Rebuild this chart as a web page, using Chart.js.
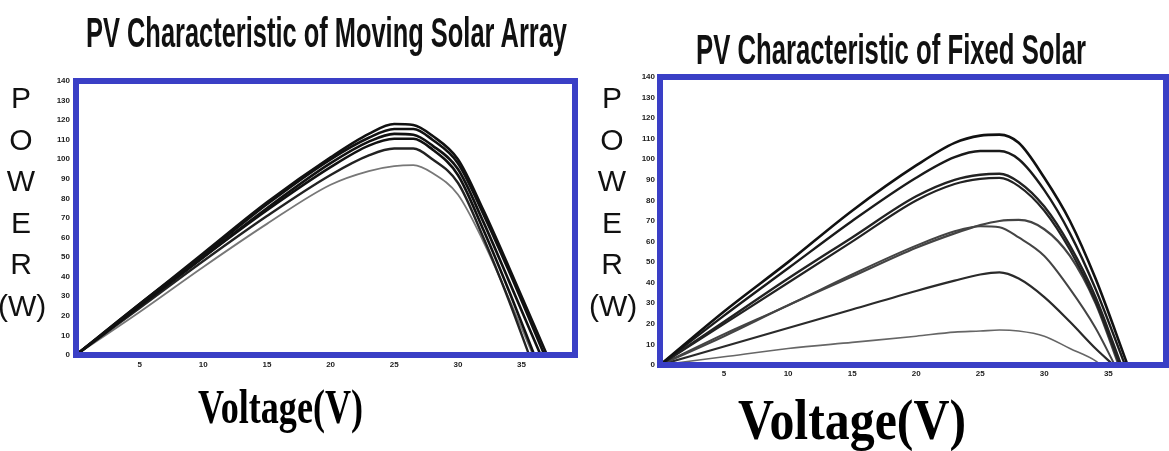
<!DOCTYPE html>
<html>
<head>
<meta charset="utf-8">
<script src="https://cdn.jsdelivr.net/npm/chart.js@4.4.0/dist/chart.umd.min.js"></script>
<style>
  html, body { margin: 0; padding: 0; background: #fff; }
  #wrap { position: relative; width: 1169px; height: 451px; overflow: hidden; }
  canvas { position: absolute; top: 0; }
  #movingCanvas { left: 0; }
  #fixedCanvas { left: 600px; }
  .lbl { position: absolute; white-space: nowrap; line-height: 1; color: #111; transform-origin: 0 0; }
  .title { font-family: "Liberation Sans", Arial, sans-serif; font-weight: bold; }
  .volt { font-family: "Liberation Serif", "Times New Roman", serif; font-weight: bold; color: #000; }
  .power { position: absolute; font-family: "Liberation Sans", Arial, sans-serif; font-size: 30px;
           line-height: 41.5px; text-align: center; width: 46px; color: #111; }
</style>
</head>
<body>
<div id="wrap">
  <canvas id="movingCanvas" width="600" height="451"></canvas>
  <canvas id="fixedCanvas" width="569" height="451"></canvas>
  <div class="lbl title" data-w="481" style="left:86px;top:11px;font-size:43px">PV Characteristic of Moving Solar Array</div>
  <div class="lbl title" data-w="390" style="left:696px;top:29px;font-size:42px">PV Characteristic of Fixed Solar</div>
  <div class="power" style="left:-2px;top:77px">P<br>O<br>W<br>E<br>R<br>(W)</div>
  <div class="power" style="left:589px;top:77px">P<br>O<br>W<br>E<br>R<br>(W)</div>
  <div class="lbl volt" data-w="165" style="left:198px;top:383px;font-size:48px">Voltage(V)</div>
  <div class="lbl volt" data-w="228" style="left:738px;top:391px;font-size:58px">Voltage(V)</div>
</div>
<script>
// tick labels
const xTicks = [5, 10, 15, 20, 25, 30, 35];
const yTicks = [0, 10, 20, 30, 40, 50, 60, 70, 80, 90, 100, 110, 120, 130, 140];

// moving array: voltage grid, power per curve, open-circuit voltage per curve
const movingVolts = [0, 5, 10, 15, 20, 23, 25, 26.5, 28, 30, 32, 34];
const moving1 = [0, 26, 52, 78, 101, 113, 118, 117.5, 112, 100, 74, 45];
const moving2 = [0, 26, 51, 77, 100, 111, 115.5, 115.5, 110, 98, 72, 43];
const moving3 = [0, 25, 50, 75, 98, 109, 113, 112.5, 107, 95, 68, 38];
const moving4 = [0, 25, 50, 74, 96, 107, 110.5, 110.5, 105, 92, 64, 33];
const moving5 = [0, 24, 48, 71, 92, 102, 105.5, 105.5, 100, 88, 60, 28];
const moving6 = [0, 22, 45, 67, 87, 94, 96.5, 97, 93, 82, 58, 29];
const movingVoc = [37.0, 36.8, 36.5, 36.0, 35.6, 35.9];

// fixed array
const fixedVolts = [0, 5, 10, 15, 20, 23, 25, 26.5, 28, 30, 32, 34];
const fixed1 = [0, 26, 50, 75, 97, 108, 111.5, 112, 108, 91, 70, 42];
const fixed2 = [0, 24, 47, 70, 91, 101, 104, 104, 100, 85, 64, 37];
const fixed3 = [0, 21, 42, 62, 82, 90, 92.5, 93, 89, 77, 58, 33];
const fixed4 = [0, 20, 40, 60, 80, 88, 90.5, 91, 87, 75, 56, 31];
const fixed5 = [0, 14, 29, 43, 57, 64, 68, 70, 70.5, 66, 53, 30];
const fixed6 = [0, 15, 29, 44, 58, 65, 67.5, 67, 62, 53, 37, 18];
const fixed7 = [0, 9, 18, 27, 36, 41, 44, 45, 42, 33, 21, 8];
const fixed8 = [0, 4, 8, 11, 14, 16, 16.5, 17, 16.5, 14, 8, 2];
const fixedVoc = [36.5, 36.3, 36.0, 35.9, 35.8, 35.5, 35.4, 34.4];

const movingStyle = [
  ['#111', 2.6], ['#111', 2.6], ['#111', 2.6], ['#111', 2.6], ['#222', 2.4], ['#777', 1.8]
];
const fixedStyle = [
  ['#111', 2.6], ['#1a1a1a', 2.4], ['#222', 2.4], ['#222', 2.2],
  ['#444', 2.2], ['#444', 2.0], ['#2a2a2a', 2.2], ['#666', 1.6]
];

function toPoints(volts, power, voc) {
  const pts = volts.map((v, i) => ({ x: v, y: power[i] }));
  pts.push({ x: voc, y: 0 });
  return pts;
}

function makeDatasets(volts, curves, vocs, styles) {
  return curves.map((c, i) => ({
    data: toPoints(volts, c, vocs[i]),
    borderColor: styles[i][0],
    borderWidth: styles[i][1],
    pointRadius: 0,
    fill: false,
    cubicInterpolationMode: 'monotone'
  }));
}

// blue frame round the plot area
const boxBorder = {
  id: 'boxBorder',
  afterDatasetsDraw(chart, args, opts) {
    const { ctx, chartArea: a } = chart;
    ctx.save();
    ctx.strokeStyle = opts.color;
    ctx.lineWidth = opts.width;
    ctx.strokeRect(a.left, a.top, a.right - a.left, a.bottom - a.top);
    ctx.restore();
  }
};

const tickFont = { family: '"Liberation Sans", Arial, sans-serif', size: 8, weight: 'bold' };

function makeOptions(xMax, yWidth, xHeight, pad, xPad, yPad) {
  return {
    responsive: false,
    animation: false,
    devicePixelRatio: 1,
    layout: { padding: pad },
    plugins: {
      legend: { display: false },
      tooltip: { enabled: false },
      title: { display: false },
      boxBorder: { color: '#3a3fc6', width: 6 }
    },
    scales: {
      x: {
        type: 'linear', min: 0, max: xMax,
        afterBuildTicks: s => { s.ticks = xTicks.map(v => ({ value: v })); },
        afterFit: s => { s.height = xHeight; },
        grid: { display: false, drawTicks: false },
        border: { display: false },
        ticks: { font: tickFont, color: '#222', padding: xPad, maxRotation: 0 }
      },
      y: {
        type: 'linear', min: 0, max: 140,
        afterBuildTicks: s => { s.ticks = yTicks.map(v => ({ value: v })); },
        afterFit: s => { s.width = yWidth; },
        grid: { display: false, drawTicks: false },
        border: { display: false },
        ticks: { font: tickFont, color: '#222', padding: yPad }
      }
    }
  };
}

new Chart(document.getElementById('movingCanvas'), {
  type: 'line',
  data: {
    datasets: makeDatasets(movingVolts,
      [moving1, moving2, moving3, moving4, moving5, moving6], movingVoc, movingStyle)
  },
  options: makeOptions(39.2, 76, 96, { top: 81, right: 25, left: 0, bottom: 0 }, 5, 6),
  plugins: [boxBorder]
});

new Chart(document.getElementById('fixedCanvas'), {
  type: 'line',
  data: {
    datasets: makeDatasets(fixedVolts,
      [fixed1, fixed2, fixed3, fixed4, fixed5, fixed6, fixed7, fixed8], fixedVoc, fixedStyle)
  },
  options: makeOptions(39.5, 60, 86, { top: 77, right: 3, left: 0, bottom: 0 }, 4, 5),
  plugins: [boxBorder]
});

// squeeze the labels horizontally to the widths seen in the picture
document.querySelectorAll('.lbl[data-w]').forEach(el => {
  const w = el.getBoundingClientRect().width;
  el.style.transform = 'scaleX(' + (el.dataset.w / w) + ')';
});
</script>
</body>
</html>
